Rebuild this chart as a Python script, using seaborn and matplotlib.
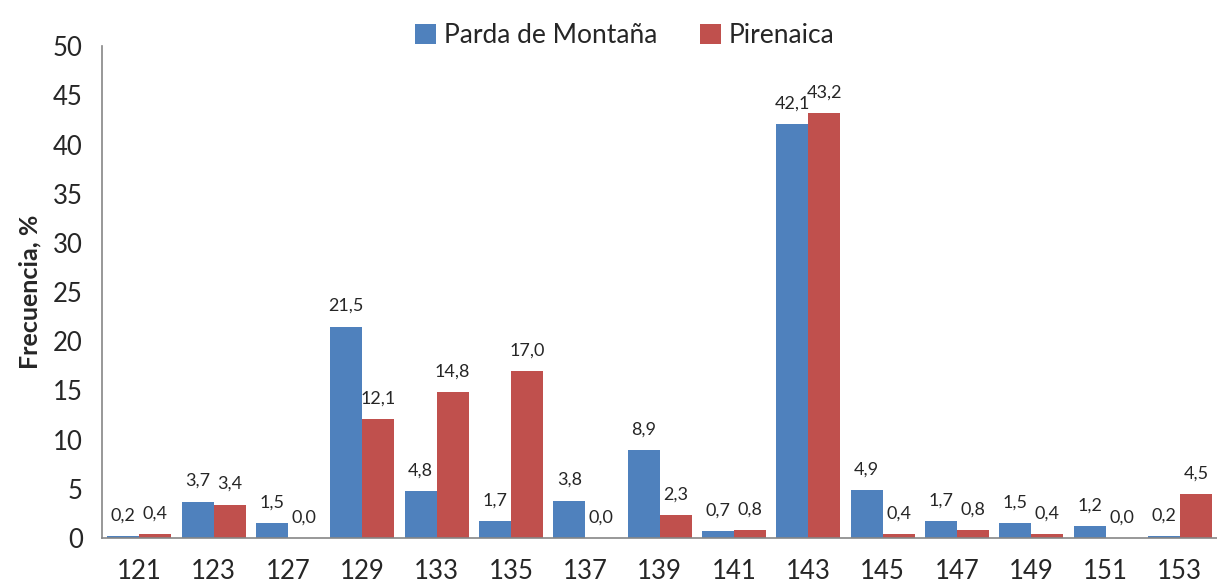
import pandas as pd
import matplotlib
matplotlib.use('Agg')
import matplotlib.pyplot as plt
import seaborn as sns

# Data
categories = ['121', '123', '127', '129', '133', '135', '137', '139',
              '141', '143', '145', '147', '149', '151', '153']
parda = [0.2, 3.7, 1.5, 21.5, 4.8, 1.7, 3.8, 8.9, 0.7, 42.1, 4.9, 1.7, 1.5, 1.2, 0.2]
pirenaica = [0.4, 3.4, 0.0, 12.1, 14.8, 17.0, 0.0, 2.3, 0.8, 43.2, 0.4, 0.8, 0.4, 0.0, 4.5]
series_names = ['Parda de Montaña', 'Pirenaica']
colors = ['#4F81BD', '#C0504D']

df = pd.DataFrame({
    'alelo': categories * 2,
    'freq': parda + pirenaica,
    'raza': [series_names[0]] * len(categories) + [series_names[1]] * len(categories),
})

sns.set_style('white')
plt.rcParams['font.family'] = ['Lato', 'DejaVu Sans']

fig = plt.figure(figsize=(12.17, 5.86), dpi=100)
ax = fig.add_axes([0.084, 0.082, 0.916, 0.839])

sns.barplot(data=df, x='alelo', y='freq', hue='raza', order=categories,
            hue_order=series_names, palette=colors, width=0.86, gap=0,
            saturation=1, linewidth=0, ax=ax, legend=True)

for cont in ax.containers:
    ax.bar_label(cont, labels=[f'{v:.1f}'.replace('.', ',') for v in cont.datavalues],
                 padding=9, fontsize=13)

ax.set_ylim(0, 50)
ax.set_yticks(range(0, 51, 5))
ax.set_xlim(-0.5, len(categories) - 0.5)
ax.set_xticks([i - 0.5 for i in range(len(categories) + 1)], minor=True)
ax.tick_params(axis='x', which='major', length=0, labelsize=18.5, pad=15)
ax.tick_params(axis='x', which='minor', length=7, color='#868686', width=1.2, direction='out')
ax.tick_params(axis='y', length=6, color='#868686', width=1.2, labelsize=18.5, direction='out', pad=8)
ax.set_xlabel('')
ax.set_ylabel('Frecuencia, %', fontsize=18, fontweight='bold', labelpad=8)

for side in ['top', 'right']:
    ax.spines[side].set_visible(False)
for side in ['left', 'bottom']:
    ax.spines[side].set_color('#868686')
    ax.spines[side].set_linewidth(1.2)

leg = ax.legend(loc='upper center', bbox_to_anchor=(0.469, 1.095), ncol=2, frameon=False,
                fontsize=19, handlelength=0.8, handleheight=0.8, handletextpad=0.3,
                columnspacing=1.6)

fig.savefig('out.png', dpi=100)
